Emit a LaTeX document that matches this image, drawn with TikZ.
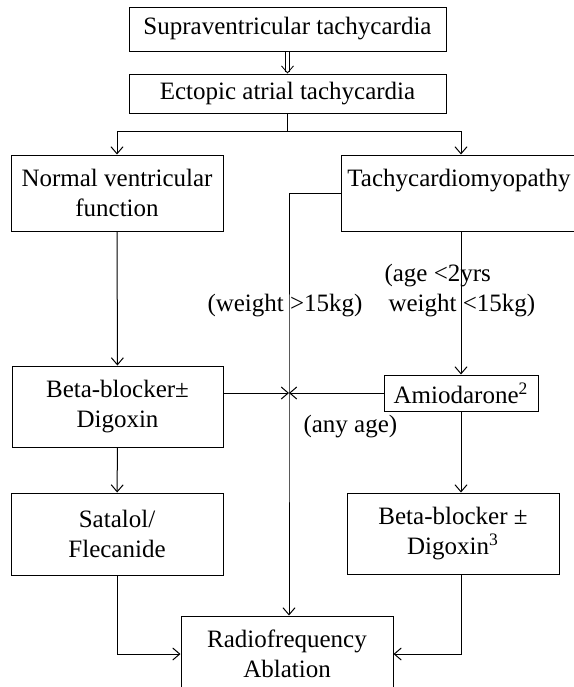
\documentclass[tikz,border=0pt]{standalone}
\usepackage{fontspec}
\setmainfont{Liberation Serif}
\usetikzlibrary{arrows.meta}

\begin{document}
\begin{tikzpicture}[x=0.5pt, y=-0.5pt, line width=0.5pt,
  box/.style={draw, rectangle, align=center, inner sep=2pt, font=\fontsize{12.5}{15}\selectfont},
  lbl/.style={inner sep=0pt, anchor=west, align=left, font=\fontsize{12.5}{15}\selectfont},
  arr/.style={-{Straight Barb[length=3.5pt,width=6pt]}}]
\useasboundingbox (0,0) rectangle (574,687);

\node[box, minimum width=158.5pt, minimum height=22pt] (supra) at (287.5,29) {Supraventricular tachycardia};
\node[box, minimum width=158.5pt, minimum height=19.5pt] (ectopic) at (287.5,93.5) {Ectopic atrial tachycardia};
\node[box, minimum width=106pt, minimum height=38pt] (normal) at (117,193) {Normal ventricular\\function};
\node[box, minimum width=118pt, minimum height=38pt] (tachy) at (459,193) {Tachycardiomyopathy\\\mbox{}};
\node[box, minimum width=105.5pt, minimum height=40.5pt] (beta) at (117.5,406.5) {Beta-blocker±\\Digoxin};
\node[box, minimum width=77pt, minimum height=18pt] (amio) at (461,393) {Amiodarone\textsuperscript{2}};
\node[box, minimum width=106pt, minimum height=41pt] (satalol) at (117,534) {Satalol/\\Flecanide};
\node[box, minimum width=106pt, minimum height=40.5pt] (beta2) at (453,533.5) {Beta-blocker ±\\Digoxin\textsuperscript{3}};
\node[box, minimum width=106pt, minimum height=38pt] (radio) at (287,654) {Radiofrequency\\Ablation};

\node[lbl] (young) at (384,290.5) {(age <2yrs\\\hspace*{2pt}weight <15kg)};
\node[lbl] (heavy) at (207,306) {(weight >15kg)};
\node[lbl] (anyage) at (303,427) {(any age)};

\coordinate (fork) at (287.5,131);
\coordinate (meet) at (289,393);

\draw[arr, double, double distance=1.5pt, line width=0.4pt] (supra) -- (ectopic);
\draw (ectopic) -- (fork);
\draw[arr] (fork) -| (normal);
\draw[arr] (fork) -| (tachy.north -| amio);
\draw[arr] (tachy.west) -| (meet) -- (radio.north -| meet);
\draw[arr] (normal) -- (beta);
\draw[arr] (tachy.south -| amio) -- (amio);
\draw[arr] (beta.east |- meet) -- (meet);
\draw[arr] (amio) -- (meet);
\draw[arr] (beta) -- (satalol);
\draw[arr] (amio) -- (amio |- beta2.north);
\draw[arr] (satalol) |- (radio);
\draw[arr] (beta2.south -| amio) |- (radio);
\end{tikzpicture}
\end{document}
